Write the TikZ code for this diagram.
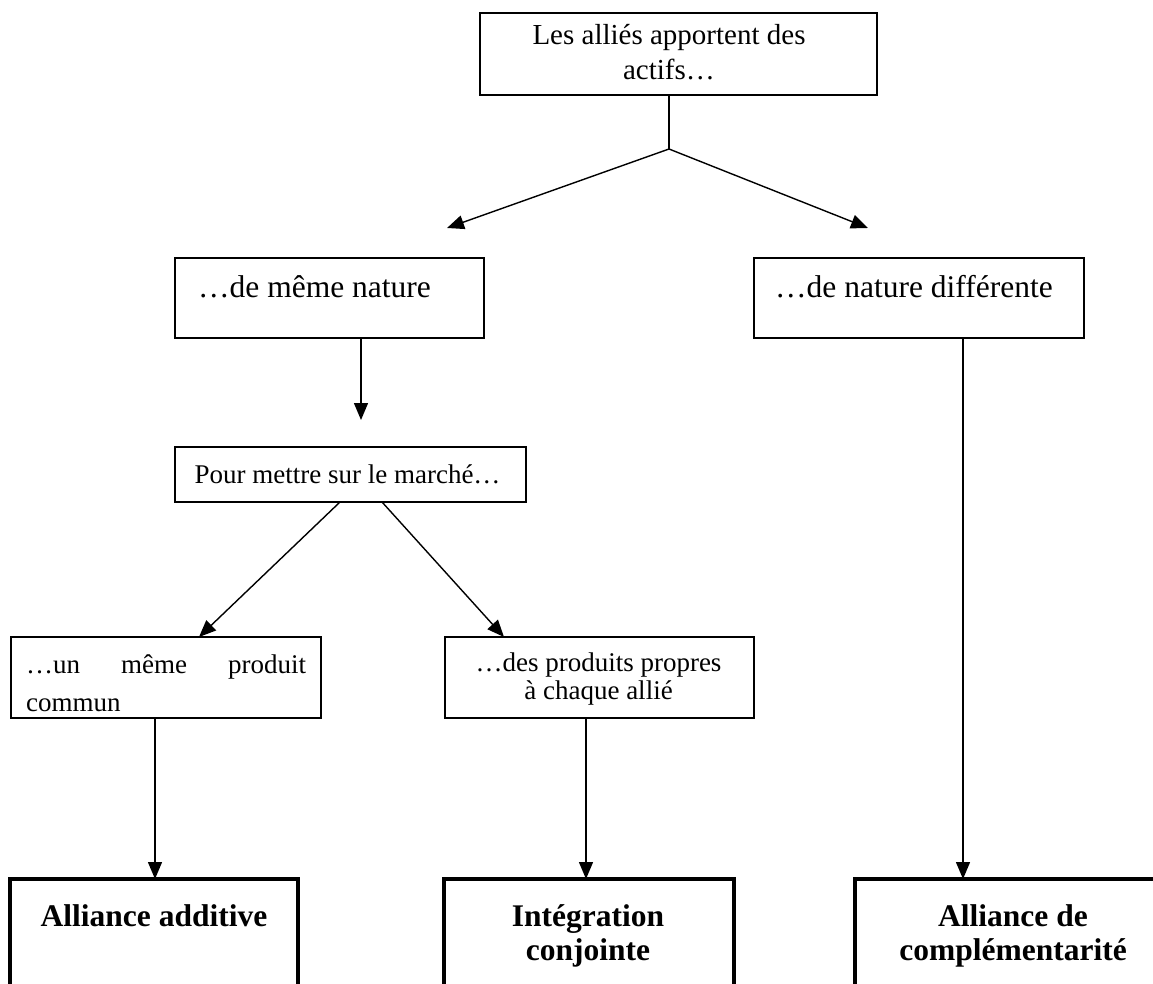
\documentclass[tikz,border=0pt]{standalone}
\usepackage{fontspec}
\setmainfont{Liberation Serif}
\usetikzlibrary{arrows.meta,calc}
\begin{document}
\begin{tikzpicture}[x=1pt,y=-1pt,
  frame/.style={draw, line width=1.8pt, inner sep=0pt, outer sep=0pt},
  endframe/.style={draw, line width=3.2pt, inner sep=0pt, outer sep=0pt},
  link/.style={line width=1.4pt},
  arr/.style={link, -{Triangle[length=17pt,width=14pt]}},
  smalltxt/.style={inner sep=0pt, font=\fontsize{27}{32}\selectfont},
  midtxt/.style={inner sep=0pt, font=\fontsize{29}{35}\selectfont},
  bigtxt/.style={inner sep=0pt, font=\fontsize{31.5}{38}\selectfont},
  endtxt/.style={inner sep=0pt, font=\fontsize{31.5}{38}\selectfont\bfseries},
]
\useasboundingbox (0,0) rectangle (1153,984);
\clip (0,0) rectangle (1153,984);
\fill[white] (0,0) rectangle (1153,984);

% boxes
\node[frame, minimum width=397pt, minimum height=82pt] (top) at (678.5,54) {};
\node[frame, minimum width=309pt, minimum height=80pt] (same) at (329.5,298) {};
\node[frame, minimum width=330pt, minimum height=80pt] (diff) at (919,298) {};
\node[frame, minimum width=351pt, minimum height=55pt] (market) at (350.5,474.5) {};
\node[frame, minimum width=310pt, minimum height=81pt] (common) at (166,677.5) {};
\node[frame, minimum width=309pt, minimum height=81pt] (own) at (599.5,677.5) {};
\node[endframe, minimum width=288pt, minimum height=121pt] (add) at (154,939.5) {};
\node[endframe, minimum width=290pt, minimum height=121pt] (conj) at (589,939.5) {};
\node[endframe, minimum width=315pt, minimum height=121pt] (compl) at (1012.5,939.5) {};

% texts
\node[midtxt, anchor=base] (topa) at (669,45) {Les alliés apportent des};
\node[midtxt, anchor=base] (topb) at (669,80) {actifs…};
\node[bigtxt, anchor=base west] (samet) at (198,298) {…de même nature};
\node[bigtxt, anchor=base west] (difft) at (775,298) {…de nature différente};
\node[smalltxt, anchor=base] (markett) at (347.5,483) {Pour mettre sur le marché…};
\node[smalltxt, anchor=base west] (commona) at (26,673) {\hbox to 280pt{…un\hfill même\hfill produit}};
\node[smalltxt, anchor=base west] (commonb) at (26,711) {commun};
\node[smalltxt, anchor=base] (owna) at (598.5,671) {…des produits propres};
\node[smalltxt, anchor=base] (ownb) at (598.5,699) {à chaque allié};
\node[endtxt, anchor=base] (addt) at (154,926) {Alliance additive};
\node[endtxt, anchor=base] (conja) at (588,926) {Intégration};
\node[endtxt, anchor=base] (conjb) at (588,960) {conjointe};
\node[endtxt, anchor=base] (compla) at (1013,926) {Alliance de};
\node[endtxt, anchor=base] (complb) at (1013,960) {complémentarité};

% connectors
\coordinate (J) at (669,149);
\coordinate (tipL) at (447,228);
\coordinate (tipR) at (868,228);
\coordinate (xs) at (361,420);
\coordinate (ml) at (340,0);
\coordinate (mr) at (382,0);
\coordinate (cl) at (199,0);
\coordinate (rr) at (504,0);
\coordinate (xc) at (155,0);
\coordinate (xo) at (586,0);
\coordinate (xd) at (963,0);

\draw[link] (top.south -| J) -- (J);
\draw[arr] (J) -- (tipL);
\draw[arr] (J) -- (tipR);
\draw[arr] (same.south -| xs) -- (xs);
\draw[arr] (market.south -| ml) -- (common.north -| cl);
\draw[arr] (market.south -| mr) -- (own.north -| rr);
\draw[arr] (common.south -| xc) -- (add.north -| xc);
\draw[arr] (own.south -| xo) -- (conj.north -| xo);
\draw[arr] (diff.south -| xd) -- (compl.north -| xd);
\end{tikzpicture}
\end{document}
